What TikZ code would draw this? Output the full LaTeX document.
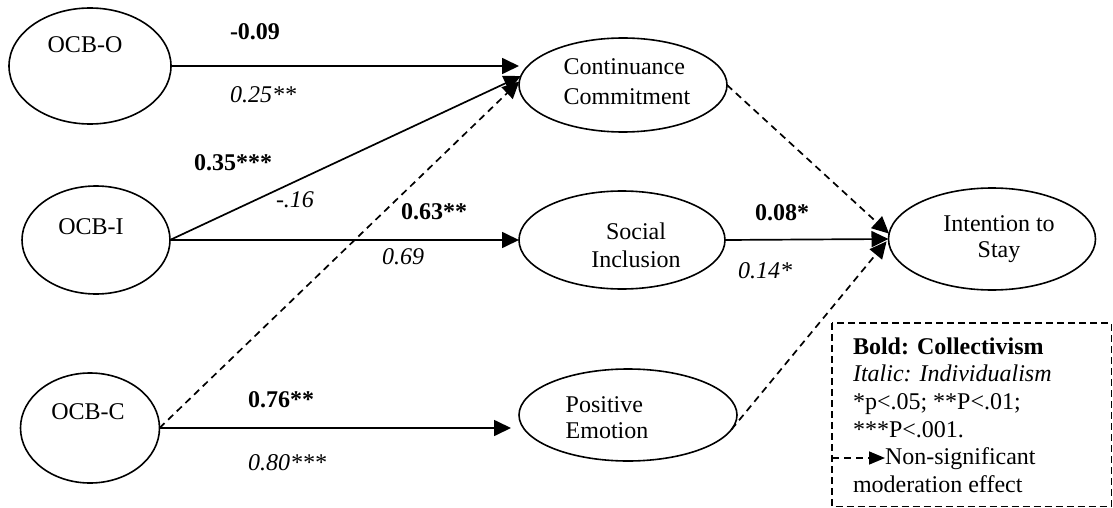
\documentclass[tikz,border=0pt]{standalone}
\usepackage{fontspec}
\setmainfont{Liberation Serif}
\usetikzlibrary{shapes.geometric,arrows.meta}
\begin{document}
\begin{tikzpicture}[x=1pt,y=-1pt,
  every node/.style={inner sep=0pt, outer sep=0pt, font=\fontsize{24}{28}\selectfont},
  latent/.style 2 args={ellipse, draw, line width=1.6pt, minimum width=#1, minimum height=#2},
  path/.style={line width=1.7pt, -{Triangle[length=17pt,width=16pt]}},
  nspath/.style={path, dash pattern=on 7pt off 5pt},
  coef/.style={anchor=base, font=\fontsize{24}{28}\selectfont\bfseries},
  coefi/.style={anchor=base, font=\fontsize{24}{28}\selectfont\itshape},
  lgline/.style={anchor=base west},
  lgbox/.style={line width=1.4pt, dash pattern=on 7pt off 4pt}]
\useasboundingbox (0,0) rectangle (1113,508);

% latent constructs
\node[latent={162pt}{116pt}] (oo) at (90,66) {};
\node[latent={148pt}{108pt}] (oi) at (96,240) {};
\node[latent={139pt}{110pt}] (oc) at (90,428) {};
\node[latent={208pt}{94pt}]  (cc) at (623,85) {};
\node[latent={206pt}{98pt}]  (si) at (622,240) {};
\node[latent={218pt}{92pt}]  (pe) at (628,415) {};
\node[latent={207pt}{102pt}] (is) at (992,239) {};

% construct names
\node[anchor=base] (ooT) at (85,53) {OCB-O};
\node[anchor=base] (oiT) at (91,234) {OCB-I};
\node[anchor=base] (ocT) at (88,419) {OCB-C};
\node[align=left, font=\fontsize{24}{30}\selectfont] (ccT) at (627,82) {Continuance\\Commitment};
\node[align=center, font=\fontsize{24}{28}\selectfont] (siT) at (636,245) {Social\\Inclusion};
\node[align=left, font=\fontsize{24}{26}\selectfont] (peT) at (607,418) {Positive\\Emotion};
\node[align=center, font=\fontsize{24}{26}\selectfont] (isT) at (999,239) {Intention to\\Stay};

% structural paths
\draw[path] (oo.east) -- (oo.east -| cc.west);
\draw[path] (oi.east) -- (cc.175);
\draw[nspath] (oc.east) -- (cc.178);
\draw[path] (oi.east) -- (si.west);
\draw[path, shorten >=8pt] (oc.east) -- (oc.east -| pe.west);
\draw[nspath] (cc.east) -- (is.177);
\draw[path] (si.east) -- (is.west);
\draw[nspath, shorten >=3pt] (pe.-8) -- (is.west);

% path coefficients
\node[coef]  (c1) at (255,40)  {-0.09};
\node[coefi] (c2) at (263,103) {0.25**};
\node[coef]  (c3) at (233,170) {0.35***};
\node[coefi] (c4) at (295,207) {-.16};
\node[coef]  (c5) at (434,219) {0.63**};
\node[coefi] (c6) at (403,264) {0.69};
\node[coef]  (c7) at (782,220) {0.08*};
\node[coefi] (c8) at (765,278) {0.14*};
\node[coef]  (c9) at (281,407) {0.76**};
\node[coefi] (c10) at (287,470) {0.80***};

% legend
\draw[lgbox] (832,323) rectangle (1111.3,506.3);
\node[lgline, font=\fontsize{24}{28}\selectfont\bfseries] (lg1) at (853,354) {Bold: Collectivism};
\node[lgline, font=\fontsize{24}{28}\selectfont\itshape] (lg2) at (853,381) {Italic: Individualism};
\node[lgline] (lg3) at (853,409) {*p<.05; **P<.01;};
\node[lgline] (lg4) at (853,437) {***P<.001.};
\node[lgline] (lg5) at (885,464) {Non-significant};
\node[lgline] (lg6) at (853,492) {moderation effect};
\coordinate (lgstart) at (832,458);
\draw[line width=1.6pt, dash pattern=on 7pt off 5pt, -{Triangle[length=16pt,width=13pt]}] (lgstart) -- (lgstart -| lg5.west);
\end{tikzpicture}
\end{document}
